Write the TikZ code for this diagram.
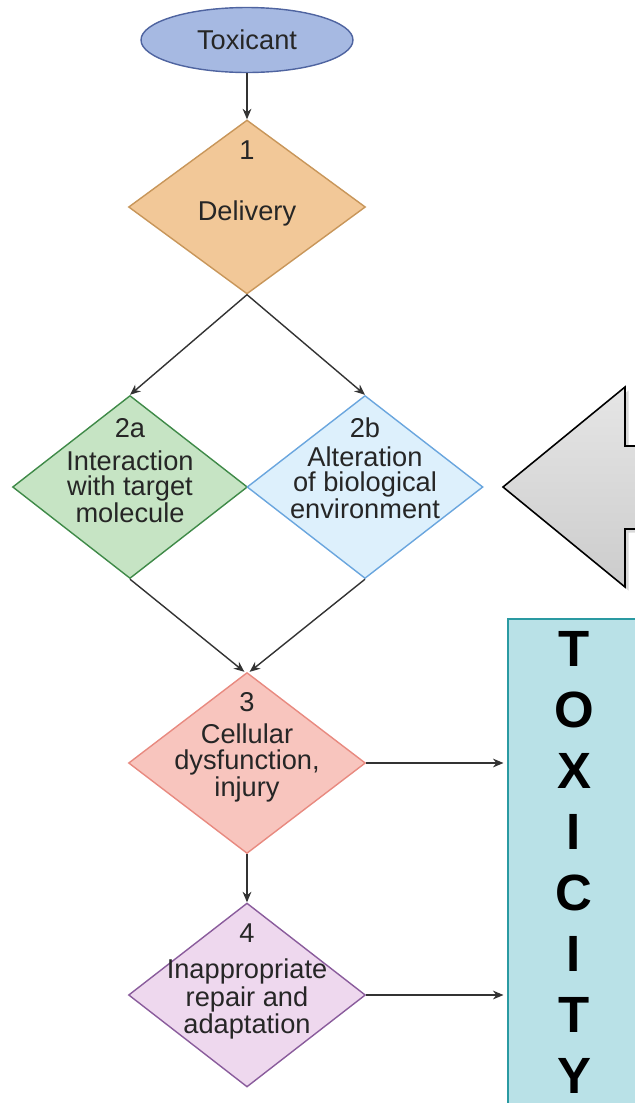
\documentclass[tikz,border=0pt]{standalone}
\usepackage{fontspec}
\setmainfont{Liberation Sans}
\usepackage{xcolor}
\usepackage{tikz}
\usetikzlibrary{shapes.geometric}
\usetikzlibrary{arrows.meta}
\usetikzlibrary{shadows}
\usetikzlibrary{positioning}
\definecolor{toxblue}{HTML}{A6B9E2}
\definecolor{toxblueline}{HTML}{4F64A0}
\definecolor{delfill}{HTML}{F2C898}
\definecolor{delline}{HTML}{C8965A}
\definecolor{intfill}{HTML}{C6E4C4}
\definecolor{intline}{HTML}{3F8A48}
\definecolor{altfill}{HTML}{DDF0FC}
\definecolor{altline}{HTML}{6AA6DE}
\definecolor{celfill}{HTML}{F8C5BE}
\definecolor{celline}{HTML}{E88A80}
\definecolor{repfill}{HTML}{EED8EE}
\definecolor{repline}{HTML}{8A5C9C}
\definecolor{boxfill}{HTML}{B9E1E7}
\definecolor{boxline}{HTML}{2A9AA2}
\definecolor{wire}{HTML}{333333}
\tikzset{stage/.style={diamond, draw, line width=0.8pt, inner sep=0pt, minimum width=4.74cm}}
\tikzset{stagenum/.style={inner sep=0pt, text=black!85, font=\fontsize{15.5}{14.3}\selectfont}}
\tikzset{stagetext/.style={inner sep=0pt, align=center, text=black!85, font=\fontsize{15.5}{14.3}\selectfont}}
\tikzset{flow/.style={draw=wire, line width=0.8pt, -{Stealth[length=6pt,width=5pt]}}}
\tikzset{letter/.style={inner sep=0pt, font=\fontsize{29}{29}\selectfont\bfseries}}

\begin{document}
\begin{tikzpicture}[x=0.02cm,y=-0.02cm]
\useasboundingbox (0,0) rectangle (635,1103);
\node[ellipse, draw=toxblueline, fill=toxblue, line width=0.8pt, minimum width=4.24cm, minimum height=1.3cm, stagetext] (tox) at (247,40) {Toxicant};
\node[stage, fill=delfill, draw=delline, minimum height=3.48cm] (d1) at (247,207) {};
\node[stage, fill=intfill, draw=intline, minimum width=4.70cm, minimum height=3.66cm] (d2a) at (130,487) {};
\node[stage, fill=altfill, draw=altline, minimum width=4.72cm, minimum height=3.66cm] (d2b) at (365,487) {};
\node[stage, fill=celfill, draw=celline, minimum height=3.62cm] (d3) at (247,763) {};
\node[stage, fill=repfill, draw=repline, minimum height=3.68cm] (d4) at (247,995) {};
\node[stagenum] (n1) at (247,150) {1};
\node[stagetext] (t1) at (247,213) {Delivery};
\node[stagenum] (n2a) at (130,428) {2a};
\node[stagetext] (t2a) at (130,487) {Interaction\\with target\\molecule};
\node[stagenum] (n2b) at (365,428) {2b};
\node[stagetext] (t2b) at (365,483) {Alteration\\of biological\\environment};
\node[stagenum] (n3) at (247,702) {3};
\node[stagetext] (t3) at (247,763) {Cellular\\dysfunction,\\injury};
\node[stagenum] (n4) at (247,933) {4};
\node[stagetext] (t4) at (247,999) {Inappropriate\\repair and\\adaptation};
\node[draw=boxline, fill=boxfill, line width=1pt, anchor=north west, minimum width=3cm, minimum height=10cm, inner sep=0pt] (tbox) at (507,618) {};
\foreach \ch [count=\i] in {T,O,X,I,C,I,T,Y}
  \node[letter] (L\i) at (574,{649+61*(\i-1)}) {\ch};
\draw[top color=black!10, bottom color=black!20, draw=black, line width=0.9pt, drop shadow={shadow xshift=2pt, shadow yshift=-2pt, opacity=0.3}]
  (503,487) -- (625,387) -- (625,446) -- (645,446) -- (645,529) -- (625,529) -- (625,587) -- cycle;
\draw[flow] (tox) -- (d1);
\draw[flow] (d1.south) -- (d2a.north);
\draw[flow] (d1.south) -- (d2b.north);
\draw[flow] (d2a.south) -- ([xshift=-1.5pt]d3.north);
\draw[flow] (d2b.south) -- ([xshift=1.5pt]d3.north);
\draw[flow] (d3) -- (d4);
\draw[flow, shorten >=2pt] (d3.east) -- (d3.east -| tbox.west);
\draw[flow, shorten >=2pt] (d4.east) -- (d4.east -| tbox.west);
\end{tikzpicture}
\end{document}
